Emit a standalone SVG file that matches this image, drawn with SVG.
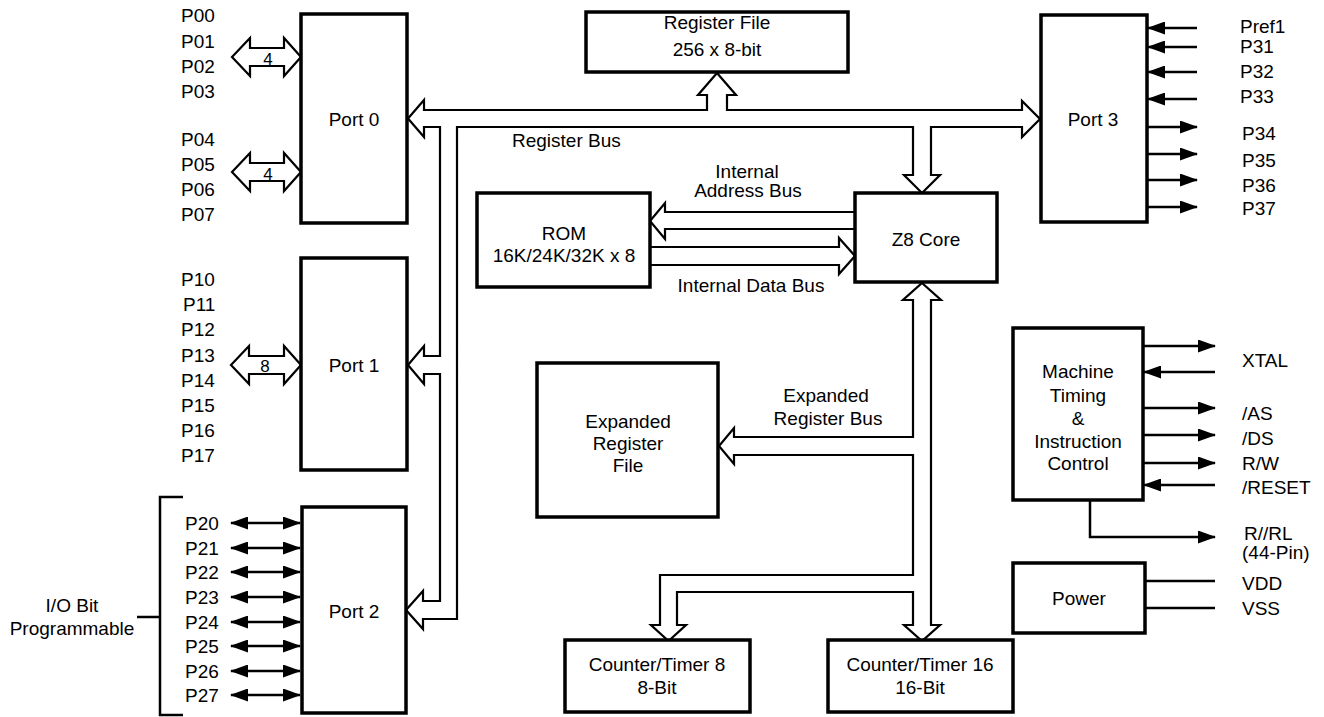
<svg xmlns="http://www.w3.org/2000/svg" width="1324" height="717" viewBox="0 0 1324 717">
<defs>
<marker id="ah" viewBox="0 0 18 13" refX="17" refY="6.5" markerWidth="18" markerHeight="13" markerUnits="userSpaceOnUse" orient="auto-start-reverse">
<path d="M0,0 L18,6.5 L0,13 z" fill="#000"/>
</marker>
</defs>
<style>
text{font-family:"Liberation Sans",Arial,Helvetica,sans-serif;font-size:19px;fill:#000}
.c{text-anchor:middle}
.num{font-size:17px}
.box{fill:#fff;stroke:#000;stroke-width:3.5}
.bus{fill:#fff;stroke:#000;stroke-width:2.2;stroke-linejoin:miter}
.pin{fill:none;stroke:#000;stroke-width:2.5;marker-end:url(#ah)}
.bi{fill:none;stroke:#000;stroke-width:2.5;marker-start:url(#ah);marker-end:url(#ah)}
.wire{fill:none;stroke:#000;stroke-width:2.5}
</style>
<rect width="1324" height="717" fill="#fff"/>

<g id="connectors">
  <!-- register bus network -->
  <polygon class="bus" points="424,110 707,110 707,95 698,95 717,73 736,95 727,95 727,110 1022,110 1022,101 1040,119 1022,137 1022,127 931,127 931,175 940,175 922,193 904,175 913,175 913,127 457,127 457,619 423,619 423,629 406,610 423,591 423,601 440,601 440,374 424,374 424,384 408,365 424,346 424,356 440,356 440,127 424,127 424,137 408,118.5 424,100"/>
  <!-- expanded register bus network -->
  <polygon class="bus" points="922,283 941,300 931,300 931,625 940,625 922,641 904,625 913,625 913,592 677,592 677,625 686,625 668.5,641 651,625 660,625 660,575 913,575 913,455 734,455 734,464 719,446 734,428 734,437 913,437 913,300 903,300"/>
  <!-- internal address / data bus -->
  <polyline class="bus" points="855,212 665,212 665,203 650,221 665,239 665,229 855,229"/>
  <polyline class="bus" points="650,247 839,247 839,238 855,256 839,274 839,265 650,265"/>
  <!-- port 0 / port 1 external buses -->
  <polygon class="bus" points="232,57 250,38 250,48 284,48 284,38 301,57 284,76 284,66 250,66 250,76"/>
  <polygon class="bus" points="232,172 250,153 250,163 284,163 284,153 301,172 284,191 284,181 250,181 250,191"/>
  <polygon class="bus" points="231,365 249,346 249,356 284,356 284,346 301,365 284,384 284,374 249,374 249,384"/>
  <text class="c num" x="268" y="65">4</text>
  <text class="c num" x="268" y="180">4</text>
  <text class="c num" x="265" y="372">8</text>
  <!-- port 2 pins -->
  <line class="bi" x1="231" y1="523" x2="300" y2="523"/>
  <line class="bi" x1="231" y1="548" x2="300" y2="548"/>
  <line class="bi" x1="231" y1="572" x2="300" y2="572"/>
  <line class="bi" x1="231" y1="597" x2="300" y2="597"/>
  <line class="bi" x1="231" y1="622" x2="300" y2="622"/>
  <line class="bi" x1="231" y1="646" x2="300" y2="646"/>
  <line class="bi" x1="231" y1="671" x2="300" y2="671"/>
  <line class="bi" x1="231" y1="695" x2="300" y2="695"/>
  <path class="wire" d="M183,497 H160 V715 H183 M137,617 H160"/>
  <!-- port 3 pins -->
  <line class="pin" x1="1197" y1="28" x2="1148" y2="28"/>
  <line class="pin" x1="1197" y1="47" x2="1148" y2="47"/>
  <line class="pin" x1="1197" y1="72" x2="1148" y2="72"/>
  <line class="pin" x1="1197" y1="99" x2="1148" y2="99"/>
  <line class="pin" x1="1147" y1="127" x2="1197" y2="127"/>
  <line class="pin" x1="1147" y1="154" x2="1197" y2="154"/>
  <line class="pin" x1="1147" y1="180" x2="1197" y2="180"/>
  <line class="pin" x1="1147" y1="207" x2="1197" y2="207"/>
  <!-- machine timing pins -->
  <line class="pin" x1="1143" y1="346" x2="1215" y2="346"/>
  <line class="pin" x1="1215" y1="372" x2="1144" y2="372"/>
  <line class="pin" x1="1143" y1="408" x2="1215" y2="408"/>
  <line class="pin" x1="1143" y1="435" x2="1215" y2="435"/>
  <line class="pin" x1="1143" y1="463" x2="1215" y2="463"/>
  <line class="pin" x1="1215" y1="485" x2="1144" y2="485"/>
  <path class="pin" d="M1090,500 V537 H1215"/>
  <!-- power -->
  <line class="wire" x1="1145" y1="581" x2="1215" y2="581"/>
  <line class="wire" x1="1145" y1="608" x2="1215" y2="608"/>
</g>

<g id="labels">
  <text x="181" y="22">P00</text>
  <text x="181" y="48">P01</text>
  <text x="181" y="73">P02</text>
  <text x="181" y="98">P03</text>
  <text x="181" y="146">P04</text>
  <text x="181" y="171">P05</text>
  <text x="181" y="196">P06</text>
  <text x="181" y="221">P07</text>
  <text x="181" y="286">P10</text>
  <text x="183" y="311">P11</text>
  <text x="181" y="336">P12</text>
  <text x="181" y="362">P13</text>
  <text x="181" y="387">P14</text>
  <text x="181" y="412">P15</text>
  <text x="181" y="437">P16</text>
  <text x="181" y="462">P17</text>
  <text x="185" y="530">P20</text>
  <text x="185" y="555">P21</text>
  <text x="185" y="579">P22</text>
  <text x="185" y="604">P23</text>
  <text x="185" y="629">P24</text>
  <text x="185" y="653">P25</text>
  <text x="185" y="678">P26</text>
  <text x="185" y="702">P27</text>
  <text class="c" x="72" y="612">I/O Bit</text>
  <text class="c" x="72" y="635">Programmable</text>
  <text x="1240" y="33">Pref1</text>
  <text x="1240" y="53">P31</text>
  <text x="1240" y="78">P32</text>
  <text x="1240" y="103">P33</text>
  <text x="1242" y="140">P34</text>
  <text x="1242" y="167">P35</text>
  <text x="1242" y="192">P36</text>
  <text x="1242" y="215">P37</text>
  <text x="1242" y="367">XTAL</text>
  <text x="1242" y="420">/AS</text>
  <text x="1242" y="445">/DS</text>
  <text x="1242" y="470">R/W</text>
  <text x="1242" y="494">/RESET</text>
  <text x="1244" y="540">R//RL</text>
  <text x="1242" y="559">(44-Pin)</text>
  <text x="1242" y="590">VDD</text>
  <text x="1242" y="615">VSS</text>
  <text x="512" y="147">Register Bus</text>
  <text class="c" x="747" y="178">Internal</text>
  <text class="c" x="748" y="197">Address Bus</text>
  <text class="c" x="751" y="292">Internal Data Bus</text>
  <text class="c" x="826" y="402">Expanded</text>
  <text class="c" x="828" y="425">Register Bus</text>
</g>

<g id="port0"><rect class="box" x="301" y="14" width="106" height="209"/><text class="c" x="354" y="126">Port 0</text></g>
<g id="port1"><rect class="box" x="301" y="258" width="106" height="212"/><text class="c" x="354" y="372">Port 1</text></g>
<g id="port2"><rect class="box" x="302" y="507" width="104" height="206"/><text class="c" x="354" y="618">Port 2</text></g>
<g id="port3"><rect class="box" x="1041" y="15" width="106" height="207"/><text class="c" x="1093" y="126">Port 3</text></g>
<g id="regfile"><rect class="box" x="586" y="12" width="262" height="60"/><text class="c" x="717" y="29">Register File</text><text class="c" x="717" y="56">256 x 8-bit</text></g>
<g id="rom"><rect class="box" x="477" y="193" width="173" height="94"/><text class="c" x="564" y="240">ROM</text><text class="c" x="564" y="262">16K/24K/32K x 8</text></g>
<g id="z8core"><rect class="box" x="855" y="193" width="142" height="89"/><text class="c" x="926" y="246">Z8 Core</text></g>
<g id="expreg"><rect class="box" x="537" y="363" width="181" height="154"/><text class="c" x="628" y="428">Expanded</text><text class="c" x="628" y="450">Register</text><text class="c" x="628" y="472">File</text></g>
<g id="ct8"><rect class="box" x="565" y="640" width="185" height="72"/><text class="c" x="657" y="671">Counter/Timer 8</text><text class="c" x="657" y="694">8-Bit</text></g>
<g id="ct16"><rect class="box" x="828" y="640" width="185" height="72"/><text class="c" x="920" y="671">Counter/Timer 16</text><text class="c" x="920" y="694">16-Bit</text></g>
<g id="timing"><rect class="box" x="1013" y="328" width="130" height="172"/><text class="c" x="1078" y="378">Machine</text><text class="c" x="1078" y="402">Timing</text><text class="c" x="1078" y="425">&amp;</text><text class="c" x="1078" y="448">Instruction</text><text class="c" x="1078" y="470">Control</text></g>
<g id="power"><rect class="box" x="1013" y="563" width="132" height="70"/><text class="c" x="1079" y="605">Power</text></g>
</svg>
